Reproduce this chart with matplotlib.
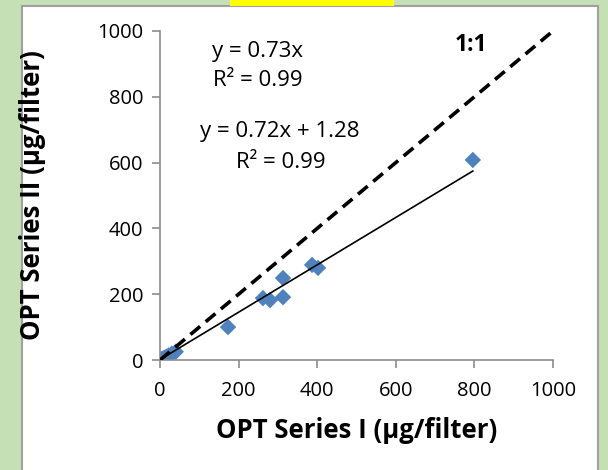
import matplotlib.pyplot as plt
from matplotlib.patches import Rectangle

# OPT series I vs II (ug/filter)
series_i = [2, 5, 8, 12, 16, 22, 30, 40, 173, 262, 280, 313, 313, 387, 402, 796]
series_ii = [1, 3, 5, 7, 10, 14, 19, 25, 100, 188, 182, 191, 249, 289, 280, 608]

fit_slope = 0.72
fit_intercept = 1.28
one_to_one = [0, 1000]
ticks = [0, 200, 400, 600, 800, 1000]

plt.rcParams['font.family'] = ['Open Sans', 'DejaVu Sans']

fig = plt.figure(figsize=(6.08, 4.70), dpi=100)
fig.patch.set_facecolor('#c5e0b4')

W, H = 608, 470
# white chart panel and the yellow tab on top
fig.patches.append(Rectangle((22 / W, -0.01), 576 / W, 1 - 6 / H + 0.01,
                             transform=fig.transFigure, facecolor='white',
                             edgecolor='#a0a0a0', lw=1.5, zorder=-5))
fig.patches.append(Rectangle((230 / W, 1 - 6 / H), 164 / W, 6 / H,
                             transform=fig.transFigure, facecolor='#ffff00',
                             edgecolor='none', zorder=-5))

ax = fig.add_axes([160 / W, 1 - 360 / H, 393 / W, 329 / H])
ax.set_zorder(1)
ax.set_facecolor('none')

ax.scatter(series_i, series_ii, marker='D', s=70, color='#4f81bd',
           edgecolors='none', zorder=2)

xmax = max(series_i)
ax.plot([0, xmax], [fit_intercept, fit_slope * xmax + fit_intercept],
        color='black', lw=1.2, zorder=3)
ax.plot(one_to_one, one_to_one, color='black', lw=2.6,
        dashes=(3.5, 2), zorder=3)

ax.set_xlim(0, 1000)
ax.set_ylim(0, 1000)
ax.set_xticks(ticks)
ax.set_yticks(ticks)
ax.tick_params(direction='out', length=6, width=1.2, color='#8c8c8c',
               labelsize=14.5)
ax.tick_params(axis='x', pad=9)
ax.tick_params(axis='y', pad=6)
for s in ['top', 'right']:
    ax.spines[s].set_visible(False)
for s in ['left', 'bottom']:
    ax.spines[s].set_color('#8c8c8c')
    ax.spines[s].set_linewidth(1.2)

ax.set_xlabel('OPT Series I (µg/filter)', fontsize=18.5, fontweight='bold')
ax.set_ylabel('OPT Series II (µg/filter)', fontsize=18.5, fontweight='bold')
ax.xaxis.set_label_coords(0.5, -(430 - 360) / 329)
ax.yaxis.set_label_coords(-(160 - 33) / 393, 0.5)
ax.xaxis.label.set_va('center')
ax.yaxis.label.set_va('center')


def fy(py):
    return (360 - py) / 329


def fx(px):
    return (px - 160) / 393


ax.text(fx(258), fy(52), 'y = 0.73x', transform=ax.transAxes,
        ha='center', va='center', fontsize=16)
ax.text(fx(258), fy(80), 'R² = 0.99', transform=ax.transAxes,
        ha='center', va='center', fontsize=16)
ax.text(fx(280), fy(131), 'y = 0.72x + 1.28', transform=ax.transAxes,
        ha='center', va='center', fontsize=16)
ax.text(fx(281), fy(162), 'R² = 0.99', transform=ax.transAxes,
        ha='center', va='center', fontsize=16)
ax.text(fx(471), fy(45), '1:1', transform=ax.transAxes, ha='center',
        va='center', fontsize=16.5, fontweight='bold')

fig.savefig('out.png', dpi=100, facecolor=fig.get_facecolor())
